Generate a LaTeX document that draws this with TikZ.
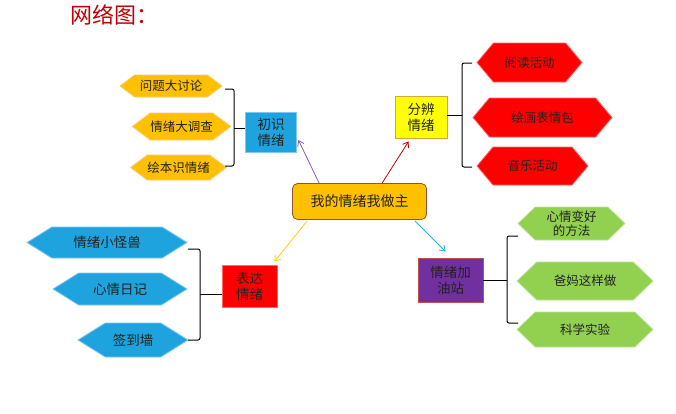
\documentclass[tikz,border=0pt]{standalone}
\usepackage{fontspec}
\setmainfont{Noto Sans CJK SC}
\usetikzlibrary{shapes.symbols,arrows.meta,calc}
\definecolor{gold}{HTML}{FFC000}
\definecolor{goldb}{HTML}{F7CB6A}
\definecolor{skyb}{HTML}{1FA3DE}
\definecolor{skybb}{HTML}{7FC8EC}
\definecolor{redf}{HTML}{FF0000}
\definecolor{redb}{HTML}{FF6A6A}
\definecolor{yel}{HTML}{FFFF00}
\definecolor{yelb}{HTML}{D0A93A}
\definecolor{purp}{HTML}{7030A0}
\definecolor{purpb}{HTML}{C0504D}
\definecolor{grn}{HTML}{92D050}
\definecolor{grnb}{HTML}{BFE39A}
\definecolor{titlered}{HTML}{C00000}
\definecolor{txt}{HTML}{222222}
\definecolor{arrpurp}{HTML}{8A5CB8}
\tikzset{
  hexbox/.style={shape=signal, signal to=west and east, inner sep=0pt, align=center,
    font=\fontsize{12.5}{14}\selectfont, text=txt, line width=0.8pt},
  catbox/.style={rectangle, inner sep=0pt, align=center, font=\fontsize{13.5}{16}\selectfont,
    text=txt, line width=0.8pt},
  brace/.style={draw=black, line width=1pt, rounded corners=2pt},
  conn/.style={line width=0.8pt, -{Straight Barb[length=5pt,width=7pt]}}
}
\begin{document}
\begin{tikzpicture}[x=1pt,y=-1pt]
\useasboundingbox (0,0) rectangle (676,413);
\node[font=\fontsize{22}{24}\selectfont, text=titlered] (title) at (114,15) {网络图：};

\node[catbox, rounded corners=5pt, fill=gold, draw=brown!70!black, minimum width=134pt, minimum height=36pt,
  font=\fontsize{14}{16}\selectfont] (ctr) at (359.5,201.5) {我的情绪我做主};

\node[catbox, fill=skyb, draw=skybb, minimum width=51pt, minimum height=40pt] (c1) at (271,132) {初识\\情绪};
\node[catbox, fill=yel, draw=yelb, minimum width=52pt, minimum height=42pt] (c2) at (421,117) {分辨\\情绪};
\node[catbox, fill=redf, draw=redb, minimum width=55pt, minimum height=42pt] (c3) at (249.5,286) {表达\\情绪};
\node[catbox, fill=purp, draw=purpb, minimum width=65pt, minimum height=44pt] (c4) at (450.5,280) {情绪加\\油站};

% gold hexagons
\tikzset{goldhex/.style={hexbox, fill=gold, draw=goldb, signal pointer angle=74}}
\node[goldhex, minimum width=102pt, minimum height=22pt] (a1) at (171,86) {问题大讨论};
\node[goldhex, minimum width=87pt, minimum height=27pt] (a2) at (181.5,126.5) {情绪大调查};
\node[goldhex, minimum width=87pt, minimum height=25pt] (a3) at (178.5,167.5) {绘本识情绪};

% red hexagons
\tikzset{redhex/.style={hexbox, fill=redf, draw=redb, signal pointer angle=100}}
\node[redhex, minimum width=105pt, minimum height=39pt] (b1) at (529.5,62.5) {阅读活动};
\node[redhex, minimum width=139pt, minimum height=39pt] (b2) at (542.5,117.5) {绘画表情包};
\node[redhex, minimum width=111pt, minimum height=38pt] (b3) at (532.5,166) {音乐活动};

% blue hexagons
\tikzset{bluehex/.style={hexbox, fill=skyb, draw=skybb, signal pointer angle=64, font=\fontsize{13.5}{15}\selectfont}}
\node[bluehex, minimum width=160pt, minimum height=31pt] (d1) at (107,242.5) {情绪小怪兽};
\node[bluehex, minimum width=134pt, minimum height=32pt] (d2) at (120,289) {心情日记};
\node[bluehex, minimum width=110pt, minimum height=34pt] (d3) at (133,340) {签到墙};

% green hexagons
\tikzset{grnhex/.style={hexbox, fill=grn, draw=grnb, signal pointer angle=88}}
\node[grnhex, minimum width=107pt, minimum height=33pt, font=\fontsize{12.5}{13.5}\selectfont] (e1) at (571.5,223.5) {心情变好\\的方法};
\node[grnhex, minimum width=136pt, minimum height=38pt] (e2) at (585,281) {爸妈这样做};
\node[grnhex, minimum width=136pt, minimum height=35pt] (e3) at (585,329.5) {科学实验};

% braces
\draw[brace] (225,89) -- (234,89) -- (234,166) -- (225,166);
\coordinate (m1) at (234,128);
\draw[line width=1pt] (m1) -- (m1 -| c1.west);

\draw[brace] (472,63) -- (462,63) -- (462,167) -- (472,167);
\coordinate (m2) at (462,115);
\draw[line width=1pt] (m2) -- (m2 -| c2.east);

\draw[brace] (188,249) -- (200,249) -- (200,340) -- (188,340);
\coordinate (m3) at (200,294);
\draw[line width=1pt] (m3) -- (m3 -| c3.west);

\draw[brace] (518,236) -- (507,236) -- (507,323) -- (518,323);
\coordinate (m4) at (507,280);
\draw[line width=1pt] (m4) -- (m4 -| c4.east);

% connectors
\coordinate (s1) at ($(ctr.north west)+(27,0)$);
\coordinate (t1) at ($(c1.east)+(1.5,8)$);
\draw[conn, draw=arrpurp] (s1) -- (t1);
\coordinate (s2) at ($(ctr.north west)+(90,0)$);
\coordinate (t2) at ($(c2.south west)+(14,3)$);
\draw[conn, draw=titlered!90!red] (s2) -- (t2);
\coordinate (s3) at ($(ctr.south west)+(15,1)$);
\coordinate (t3) at ($(c3.north east)+(-3,-3)$);
\draw[conn, draw=gold!80!yellow] (s3) -- (t3);
\coordinate (s4) at ($(ctr.south east)+(-12,1)$);
\coordinate (t4) at ($(c4.north west)+(28,-6)$);
\draw[conn, draw=skyb!80!cyan] (s4) -- (t4);
\end{tikzpicture}
\end{document}
